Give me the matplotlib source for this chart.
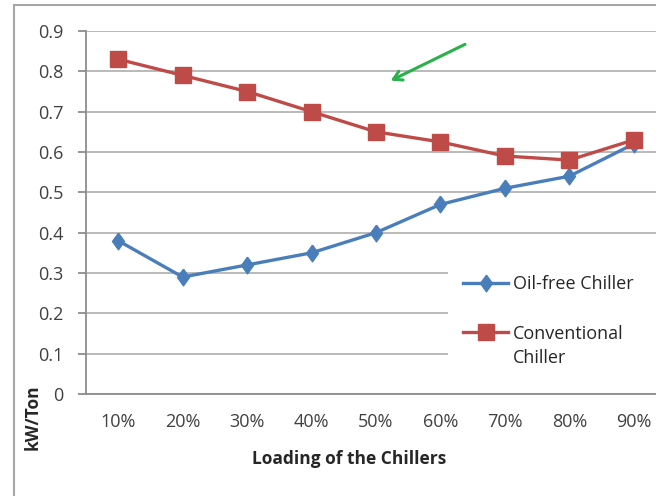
import matplotlib
matplotlib.use("Agg")
import matplotlib.pyplot as plt
from matplotlib.patches import Rectangle

# Chiller efficiency at each loading step
loading = ["10%", "20%", "30%", "40%", "50%", "60%", "70%", "80%", "90%"]
oil_free = [0.38, 0.29, 0.32, 0.35, 0.40, 0.47, 0.51, 0.54, 0.62]
conventional = [0.83, 0.79, 0.75, 0.70, 0.65, 0.625, 0.59, 0.58, 0.63]
yticks = [0, 0.1, 0.2, 0.3, 0.4, 0.5, 0.6, 0.7, 0.8, 0.9]

plt.rcParams["font.family"] = ["Open Sans", "DejaVu Sans"]

W, H = 656, 496
fig = plt.figure(figsize=(W / 100, H / 100), dpi=100)

def fx(px):
    return px / W

def fy(py):
    return 1 - py / H

# plot area runs off the right edge of the figure
left, right, top, bottom = 86, 666, 31, 394
ax = fig.add_axes([fx(left), fy(bottom), (right - left) / W, (bottom - top) / H])

x = list(range(len(loading)))
diamond = [(0, 1), (0.72, 0), (0, -1), (-0.72, 0), (0, 1)]
ax.plot(x, oil_free, color="#4a7ebb", lw=2.4, marker=diamond, markersize=12,
        label="Oil-free Chiller", zorder=3)
ax.plot(x, conventional, color="#be4b48", lw=2.4, marker="s", markersize=11,
        label="Conventional", zorder=4)

ax.set_xlim(-0.5, len(loading) - 0.5)
ax.set_ylim(0, 0.9)
ax.set_xticks(x)
ax.set_xticklabels(loading)
ax.set_yticks(yticks)
ax.set_yticklabels([f"{v:g}" for v in yticks])

ax.grid(axis="y", color="#b4b4b4", lw=1.3)
ax.set_axisbelow(True)
for side in ["top", "right"]:
    ax.spines[side].set_visible(False)
for side in ["left", "bottom"]:
    ax.spines[side].set_color("#8c8c8c")
    ax.spines[side].set_linewidth(1.3)

ax.tick_params(axis="y", length=6, width=1.3, color="#8c8c8c", pad=10,
               labelsize=13, labelcolor="#404040")
ax.tick_params(axis="x", length=0, pad=14, labelsize=13, labelcolor="#404040")

fig.text(fx(349), fy(459), "Loading of the Chillers", ha="center", va="center",
         fontsize=12.5, fontweight="bold", color="#262626")
fig.text(fx(33), fy(417), "kW/Ton", ha="center", va="center", rotation=90,
         fontsize=12.5, fontweight="bold", color="#262626")

# white block behind the legend hides the gridlines
ax.add_patch(Rectangle((fx(448), fy(378)), fx(220), (378 - 262) / H,
                       transform=fig.transFigure, facecolor="white",
                       edgecolor="none", zorder=2, clip_on=False))
leg = ax.legend(loc="upper left", bbox_to_anchor=(fx(463), fy(275)),
                bbox_transform=fig.transFigure, frameon=False,
                fontsize=13, handlelength=2.5, handletextpad=0.28,
                labelspacing=1.75, borderpad=0, borderaxespad=0)
leg.set_zorder(5)
for t in leg.get_texts():
    t.set_color("#262626")
fig.text(fx(513), fy(358), "Chiller", ha="left", va="center", fontsize=13,
         color="#262626", zorder=6)

ax.annotate("", xy=(4.19, 0.774), xytext=(5.42, 0.870),
            arrowprops=dict(arrowstyle="->,head_length=0.6,head_width=0.35",
                            color="#2ab14c", lw=2.2))

# chart area border
fig.patches.append(Rectangle((fx(14), fy(H + 10)), 1.0, (H + 10 - 5) / H,
                             transform=fig.transFigure, fill=False,
                             edgecolor="#a6a6a6", lw=1.5))

fig.savefig("out.png", dpi=100)
